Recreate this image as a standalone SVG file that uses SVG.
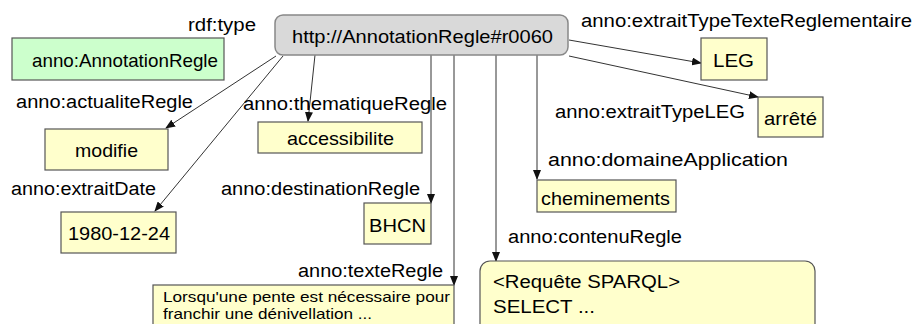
<svg xmlns="http://www.w3.org/2000/svg" width="914" height="324" viewBox="0 0 914 324">
<defs>
<marker id="arr" markerWidth="10" markerHeight="8" refX="9" refY="4" orient="auto" markerUnits="userSpaceOnUse">
<path d="M0,0 L10,4 L0,8 z" fill="#111"/>
</marker>
<style>
text{font-family:"Liberation Sans",Arial,sans-serif;fill:#000}
.lbl{font-size:18px}
.nt{font-size:19px}
.sm{font-size:15px}
.lit{fill:#ffffcc;stroke:#555;stroke-width:1.2}
.cls{fill:#ccffcc;stroke:#555;stroke-width:1.2}
.res{fill:#d9d9d9;stroke:#888;stroke-width:1.5}
.edge{stroke:#333;stroke-width:1;fill:none;marker-end:url(#arr)}
</style>
</defs>
<rect width="914" height="324" fill="#fff"/>
<g id="connectors">
<line class="edge" x1="276" y1="56" x2="166" y2="128"/>
<line class="edge" x1="283" y1="56" x2="155" y2="211"/>
<line class="edge" x1="315" y1="55" x2="308" y2="121"/>
<line class="edge" x1="431" y1="55" x2="431" y2="203"/>
<line class="edge" x1="454" y1="55" x2="454" y2="285"/>
<line class="edge" x1="496" y1="55" x2="496" y2="261"/>
<line class="edge" x1="537" y1="55" x2="537" y2="179"/>
<line class="edge" x1="569" y1="40" x2="701" y2="63"/>
<line class="edge" x1="569" y1="56" x2="758" y2="97"/>
</g>
<g id="labels">
<text class="lbl" x="188" y="31" textLength="68" lengthAdjust="spacingAndGlyphs">rdf:type</text>
<text class="lbl" x="16" y="108" textLength="177" lengthAdjust="spacingAndGlyphs">anno:actualiteRegle</text>
<text class="lbl" x="243" y="110" textLength="204" lengthAdjust="spacingAndGlyphs">anno:thematiqueRegle</text>
<text class="lbl" x="11" y="195" textLength="145" lengthAdjust="spacingAndGlyphs">anno:extraitDate</text>
<text class="lbl" x="221" y="195" textLength="199" lengthAdjust="spacingAndGlyphs">anno:destinationRegle</text>
<text class="lbl" x="298" y="277" textLength="145" lengthAdjust="spacingAndGlyphs">anno:texteRegle</text>
<text class="lbl" x="508" y="243" textLength="174" lengthAdjust="spacingAndGlyphs">anno:contenuRegle</text>
<text class="lbl" x="548" y="166" textLength="240" lengthAdjust="spacingAndGlyphs">anno:domaineApplication</text>
<text class="lbl" x="581" y="27" textLength="331" lengthAdjust="spacingAndGlyphs">anno:extraitTypeTexteReglementaire</text>
<text class="lbl" x="555" y="118" textLength="190" lengthAdjust="spacingAndGlyphs">anno:extraitTypeLEG</text>
</g>
<g id="n-center">
<rect class="res" x="275" y="15" width="293" height="40" rx="8"/>
<text class="nt" x="292" y="43" textLength="261" lengthAdjust="spacingAndGlyphs">http://AnnotationRegle#r0060</text>
</g>
<g id="n-class">
<rect class="cls" x="12" y="38" width="212" height="42"/>
<text class="nt" x="32" y="67" textLength="186" lengthAdjust="spacingAndGlyphs">anno:AnnotationRegle</text>
</g>
<g id="n-modifie">
<rect class="lit" x="45" y="129" width="123" height="41"/>
<text class="nt" x="75" y="157" textLength="63" lengthAdjust="spacingAndGlyphs">modifie</text>
</g>
<g id="n-date">
<rect class="lit" x="61" y="212" width="115" height="41"/>
<text class="nt" x="68" y="240" textLength="102" lengthAdjust="spacingAndGlyphs">1980-12-24</text>
</g>
<g id="n-access">
<rect class="lit" x="258" y="122" width="164" height="31"/>
<text class="nt" x="287" y="145" textLength="107" lengthAdjust="spacingAndGlyphs">accessibilite</text>
</g>
<g id="n-bhcn">
<rect class="lit" x="364" y="203" width="67" height="41"/>
<text class="nt" x="369" y="232" textLength="57" lengthAdjust="spacingAndGlyphs">BHCN</text>
</g>
<g id="n-chem">
<rect class="lit" x="537" y="180" width="139" height="32"/>
<text class="nt" x="541" y="205" textLength="129" lengthAdjust="spacingAndGlyphs">cheminements</text>
</g>
<g id="n-leg">
<rect class="lit" x="701" y="38" width="66" height="42"/>
<text class="nt" x="713" y="67" textLength="41" lengthAdjust="spacingAndGlyphs">LEG</text>
</g>
<g id="n-arrete">
<rect class="lit" x="758" y="97" width="65" height="40"/>
<text class="nt" x="764" y="125" textLength="53" lengthAdjust="spacingAndGlyphs">arrêté</text>
</g>
<g id="n-texte">
<rect class="lit" x="153" y="285" width="301" height="50"/>
<text class="sm" x="163" y="302" textLength="287" lengthAdjust="spacingAndGlyphs">Lorsqu'une pente est nécessaire pour</text>
<text class="sm" x="163" y="319" textLength="209" lengthAdjust="spacingAndGlyphs">franchir une dénivellation ...</text>
</g>
<g id="n-contenu">
<rect class="lit" x="480" y="261" width="335" height="80" rx="10"/>
<text class="lbl" x="493" y="288" textLength="187" lengthAdjust="spacingAndGlyphs">&lt;Requête SPARQL&gt;</text>
<text class="lbl" x="493" y="313" textLength="102" lengthAdjust="spacingAndGlyphs">SELECT ...</text>
</g>
</svg>
